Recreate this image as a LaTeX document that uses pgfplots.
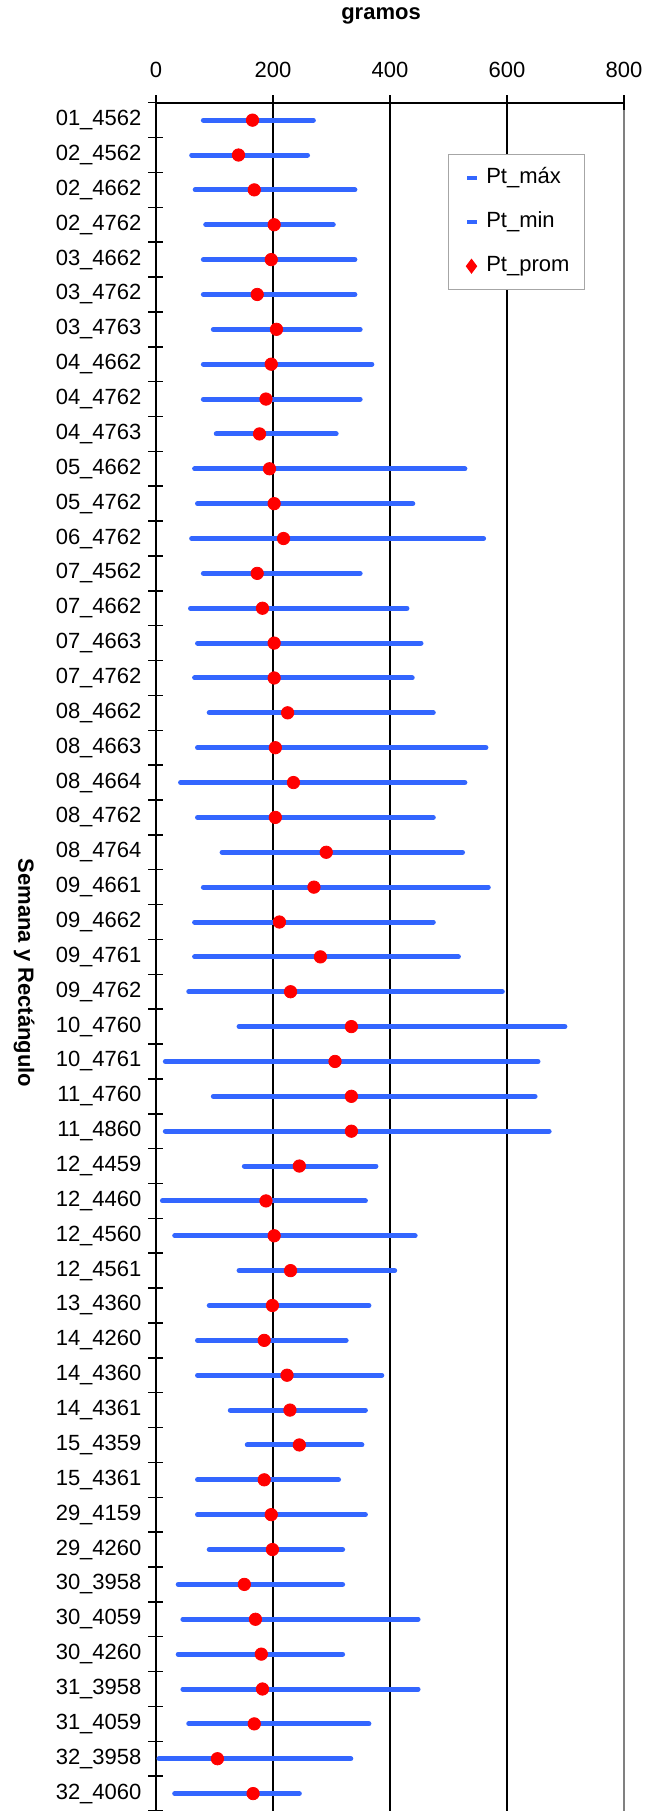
\documentclass[border=0pt]{standalone}
\usepackage{fontspec}
\setmainfont{Liberation Sans}
\usepackage{pgfplots}
\usepackage{pgfplotstable}
\pgfplotsset{compat=1.18}
\definecolor{barblue}{RGB}{51,102,255}
\definecolor{dotred}{RGB}{255,0,0}
\newcommand\lab{\fontsize{11}{13.2}\selectfont}

% id  Pt_min  Pt_max  Pt_prom (gramos)
\pgfplotstableread{
id min max prom
1 81 269 165
2 61 259 141
3 67 340 168
4 85 303 202
5 81 340 197
6 81 340 173
7 98 349 206
8 81 369 197
9 81 349 188
10 103 308 177
11 66 528 194
12 71 439 202
13 61 560 218
14 81 349 173
15 59 429 182
16 71 453 202
17 66 438 202
18 91 474 225
19 71 564 204
20 42 528 235
21 71 474 204
22 113 524 291
23 81 568 270
24 66 474 211
25 66 517 281
26 56 592 230
27 142 699 334
28 16 653 306
29 98 648 334
30 16 672 334
31 151 376 245
32 11 358 188
33 32 443 202
34 142 408 230
35 91 364 199
36 71 325 185
37 71 386 224
38 127 358 229
39 156 352 245
40 71 312 185
41 71 358 197
42 91 319 199
43 38 319 151
44 46 448 170
45 38 319 180
46 46 448 182
47 56 364 168
48 5 333 105
49 32 245 166
}\datatable

\begin{document}
\begin{tikzpicture}
\begin{axis}[
  scale only axis, width=234pt, height=854.15pt,
  xmin=0, xmax=800, ymin=0.5, ymax=49.5, y dir=reverse,
  clip mode=individual,
  axis x line*=top, axis y line*=left,
  axis line style={black, line width=0.85pt},
  xtick={0,200,400,600},
  extra x ticks={800},
  extra x tick style={xmajorgrids=true, major grid style={gray, line width=1pt}},
  xmajorgrids, grid style={black, line width=0.6pt},
  ytick={0.5,1.5,...,49.5},
  yticklabels={01\_4562,02\_4562,02\_4662,02\_4762,03\_4662,03\_4762,03\_4763,
    04\_4662,04\_4762,04\_4763,05\_4662,05\_4762,06\_4762,07\_4562,07\_4662,
    07\_4663,07\_4762,08\_4662,08\_4663,08\_4664,08\_4762,08\_4764,09\_4661,
    09\_4662,09\_4761,09\_4762,10\_4760,10\_4761,11\_4760,11\_4860,12\_4459,
    12\_4460,12\_4560,12\_4561,13\_4360,14\_4260,14\_4360,14\_4361,15\_4359,
    15\_4361,29\_4159,29\_4260,30\_3958,30\_4059,30\_4260,31\_3958,31\_4059,
    32\_3958,32\_4060,{}},
  yticklabel style={yshift=-8.716pt, font=\lab},
  xticklabel style={font=\lab, yshift=5pt},
  /pgf/number format/assume math mode=true,
  tick align=center, major tick length=7.5pt,
  tick style={black, line width=0.75pt},
  ylabel={Semana y Rectángulo},
  every axis y label/.style={at={(axis description cs:-0.282,0.4905)}, anchor=center, rotate=-90, font=\lab\bfseries},
  legend style={at={(axis description cs:0.6229,0.97)}, anchor=north west,
    draw=gray!70, line width=0.75pt, fill=white, font=\lab,
    inner xsep=6.5pt, inner ysep=5.5pt, row sep=9.5pt,
    nodes={inner sep=1pt, text height=8pt, text depth=2.5pt}},
  legend cell align=left,
  legend image code/.code={\path (0.25pt,0pt) (11pt,0pt);
    \draw[mark repeat=2,mark phase=2,#1] plot coordinates {(0pt,0pt) (5pt,0pt) (10pt,0pt)};},
]
\addlegendimage{only marks, mark=-, barblue, mark size=2.5pt, mark options={line width=2.2pt}}
\addlegendentry{Pt\_máx}
\addlegendimage{only marks, mark=-, barblue, mark size=2.5pt, mark options={line width=2.2pt}}
\addlegendentry{Pt\_min}
\addlegendimage{only marks, mark=diamond*, dotred, mark size=3.2pt, mark options={draw=dotred, fill=dotred}}
\addlegendentry{Pt\_prom}
\addplot[forget plot, barblue, line width=2.5pt, line cap=round,
  quiver={u=\thisrow{max}-\thisrow{min}, v=0}] table[x=min, y=id] {\datatable};
\addplot[forget plot, only marks, mark=*, mark size=3.1pt,
  mark options={draw=dotred, fill=dotred}] table[x=prom, y=id] {\datatable};
\node[font=\lab\bfseries] at (axis description cs:0.4808,1.0508) {gramos};
\end{axis}
\pgfresetboundingbox
\path[use as bounding box] (-78pt,0pt) rectangle (245pt,905.5pt);
\end{tikzpicture}
\end{document}
